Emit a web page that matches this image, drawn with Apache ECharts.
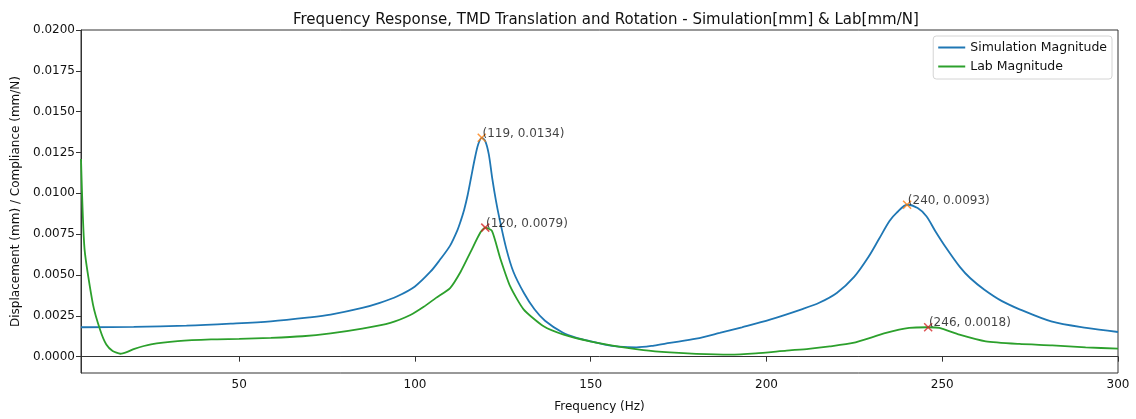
<!DOCTYPE html>
<html>
<head>
<meta charset="utf-8">
<script src="https://cdn.jsdelivr.net/npm/echarts@6/dist/echarts.min.js"></script>
<style>
  html, body { margin: 0; padding: 0; background: #fff; }
  #chart { width: 1136px; height: 419px; }
</style>
</head>
<body>
<div id="chart"></div>
<script>
// simulation magnitude (mm)
const simFreq = [5, 20, 35, 47.6, 59, 70, 76, 85, 90, 95, 100, 104.4, 107, 110, 112, 113, 114, 115, 116, 117, 118, 119, 120, 121, 122, 123, 124, 126, 128, 131, 134, 137, 142, 146, 150, 154, 158, 163, 168, 172.5, 180, 186.7, 193, 201, 210, 215, 220, 225, 229, 232, 235, 237, 240, 243, 245.5, 248, 251, 255, 258, 262, 267, 272, 281, 291, 300];
const simMag = [0.00180, 0.00182, 0.00190, 0.00202, 0.00216, 0.00240, 0.00257, 0.00298, 0.00329, 0.00370, 0.00430, 0.00520, 0.00590, 0.00680, 0.00770, 0.00830, 0.00900, 0.00990, 0.01100, 0.01210, 0.01300, 0.01340, 0.01320, 0.01240, 0.01090, 0.00960, 0.00850, 0.00660, 0.00520, 0.00390, 0.00290, 0.00220, 0.00148, 0.00115, 0.00094, 0.00074, 0.00062, 0.00057, 0.00068, 0.00084, 0.00110, 0.00145, 0.00180, 0.00227, 0.00290, 0.00330, 0.00390, 0.00490, 0.00610, 0.00720, 0.00830, 0.00880, 0.00930, 0.00910, 0.00860, 0.00770, 0.00670, 0.00550, 0.00480, 0.00410, 0.00340, 0.00290, 0.00216, 0.00176, 0.00151];

// lab magnitude (mm/N)
const labFreq = [5, 6, 8.4, 10.5, 12.2, 14, 16.2, 18, 20.2, 24.9, 32.5, 42, 50, 59, 68, 76, 85, 93, 98.7, 102.5, 106, 110, 113, 115.8, 118.6, 120, 121.9, 124.3, 127.1, 130.9, 136.6, 142.3, 149.8, 158.4, 165, 172.5, 180, 189.6, 197, 205.7, 212, 218, 224.6, 234, 240.6, 246, 249.2, 254.9, 262.4, 271.9, 281.3, 290.8, 300];
const labMag = [0.0121, 0.0066, 0.0032, 0.0016, 0.00074, 0.00035, 0.00018, 0.00028, 0.00048, 0.00075, 0.00095, 0.00106, 0.00109, 0.00115, 0.00125, 0.00143, 0.00172, 0.00207, 0.00255, 0.00305, 0.0036, 0.0042, 0.0052, 0.0064, 0.0076, 0.0079, 0.0077, 0.0060, 0.0043, 0.0029, 0.00186, 0.00135, 0.00094, 0.00060, 0.00040, 0.00026, 0.00017, 0.00012, 0.00020, 0.00037, 0.00048, 0.00063, 0.00084, 0.00145, 0.00176, 0.0018, 0.00176, 0.00135, 0.00094, 0.00078, 0.00069, 0.00057, 0.00049];

// marked peaks
const simPeakFreq = [119, 240];
const simPeakMag = [0.0134, 0.0093];
const labPeakFreq = [120, 246];
const labPeakMag = [0.0079, 0.0018];

const xTicks = [50, 100, 150, 200, 250, 300];
const yTicks = [0, 0.0025, 0.005, 0.0075, 0.01, 0.0125, 0.015, 0.0175, 0.02];

const FONT = 'DejaVu Sans';
const crossIcon = 'path://M0,0L10,10M10,0L0,10';

const zip = (xs, ys) => xs.map((x, i) => [x, ys[i]]);

const peakSeries = (name, xs, ys, color) => ({
  name: name,
  type: 'scatter',
  data: zip(xs, ys),
  symbol: crossIcon,
  symbolSize: 8,
  z: 5,
  itemStyle: { color: 'transparent', borderColor: color, borderWidth: 1.5 },
  label: {
    show: true,
    position: 'right',
    distance: -4,
    offset: [0, -4],
    color: '#111',
    fontFamily: FONT,
    fontSize: 12,
    formatter: (p) => `(${p.value[0]}, ${p.value[1].toFixed(4)})`
  }
});

const chart = echarts.init(document.getElementById('chart'));

const option = {
  animation: false,
  textStyle: { fontFamily: FONT },
  title: {
    text: 'Frequency Response, TMD Translation and Rotation - Simulation[mm] & Lab[mm/N]',
    left: 288,
    top: 8,
    textStyle: { fontFamily: FONT, fontSize: 15, fontWeight: 'normal', color: '#111' }
  },
  legend: {
    data: ['Simulation Magnitude', 'Lab Magnitude'],
    orient: 'vertical',
    right: 24,
    top: 36,
    padding: [5, 5, 6, 5],
    itemGap: 6,
    itemWidth: 27,
    itemHeight: 2,
    icon: 'rect',
    borderColor: '#d4d4d4',
    borderWidth: 1,
    borderRadius: 3,
    textStyle: { fontFamily: FONT, fontSize: 12.5, color: '#111' }
  },
  grid: {
    left: 81, right: 18, top: 30, bottom: 46,
    show: true, borderColor: '#333', borderWidth: 1
  },
  xAxis: {
    type: 'value',
    min: 5,
    max: 300,
    name: 'Frequency (Hz)',
    nameLocation: 'middle',
    nameGap: 28,
    nameTextStyle: { fontFamily: FONT, fontSize: 12, color: '#111' },
    axisLine: { show: true, lineStyle: { color: '#333' } },
    axisTick: { show: true, length: 5, lineStyle: { color: '#333' }, customValues: xTicks },
    axisLabel: { fontFamily: FONT, fontSize: 12, color: '#111', margin: 6, customValues: xTicks },
    splitLine: { show: false }
  },
  yAxis: {
    type: 'value',
    min: -0.001,
    max: 0.02,
    name: 'Displacement (mm) / Compliance (mm/N)',
    nameLocation: 'middle',
    nameGap: 58,
    nameTextStyle: { fontFamily: FONT, fontSize: 12, color: '#111' },
    axisLine: { show: true, lineStyle: { color: '#333' } },
    axisTick: { show: true, length: 5, lineStyle: { color: '#333' }, customValues: yTicks },
    axisLabel: {
      fontFamily: FONT, fontSize: 12, color: '#111', margin: 6,
      customValues: yTicks,
      formatter: (v) => v.toFixed(4)
    },
    splitLine: { show: false }
  },
  series: [
    {
      name: 'Simulation Magnitude',
      type: 'line',
      data: zip(simFreq, simMag),
      smooth: 0.3,
      showSymbol: false,
      lineStyle: { color: '#1f77b4', width: 1.8 },
      itemStyle: { color: '#1f77b4' }
    },
    {
      name: 'Lab Magnitude',
      type: 'line',
      data: zip(labFreq, labMag),
      smooth: 0.2,
      showSymbol: false,
      lineStyle: { color: '#2ca02c', width: 1.8 },
      itemStyle: { color: '#2ca02c' }
    },
    peakSeries('Simulation Peaks', simPeakFreq, simPeakMag, '#ff7f0e'),
    peakSeries('Lab Peaks', labPeakFreq, labPeakMag, '#d62728')
  ]
};

chart.setOption(option);
</script>
</body>
</html>
